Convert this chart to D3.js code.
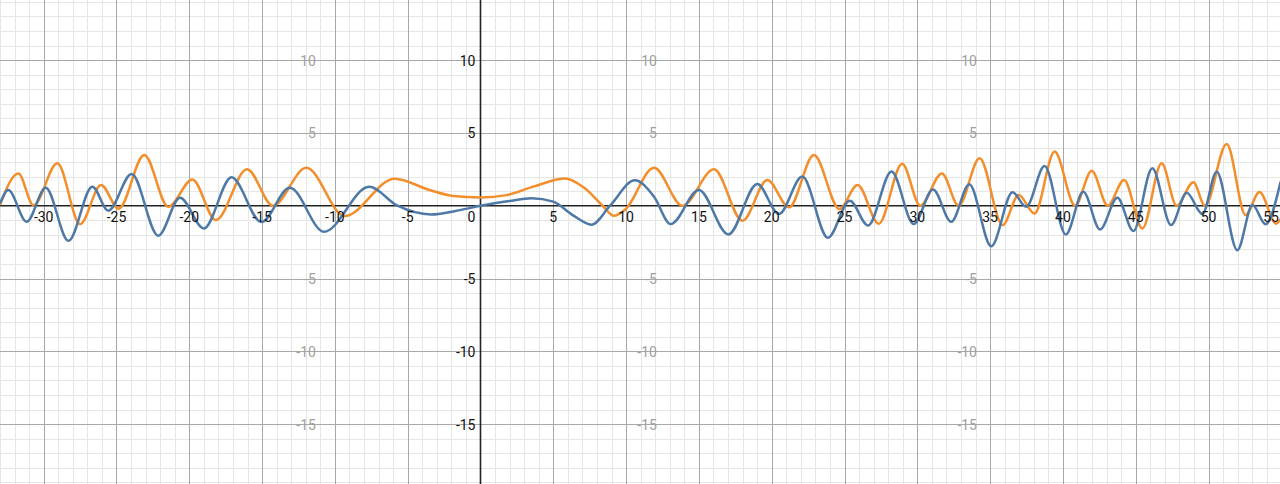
<!DOCTYPE html>
<html>
<head>
<meta charset="utf-8">
<script src="https://cdn.jsdelivr.net/npm/d3@7"></script>
<style>
  html, body { margin: 0; padding: 0; background: #fff; }
  svg { display: block; }
  text { font-family: Roboto, "Open Sans", Arial, sans-serif; }
</style>
</head>
<body>
<svg id="chart" width="1280" height="484"></svg>
<script>
// ---- data ----
const orangePoints = [
  [-33.0, 0.05], [-31.74, 2.22], [-30.7, 0.03], [-29.06, 2.91], [-27.5, -1.26],
  [-26.06, 1.42], [-24.85, -0.2], [-23.09, 3.49], [-21.44, -0.07], [-19.79, 1.81],
  [-18.18, -0.99], [-16.03, 2.5], [-14.25, 0.0], [-11.96, 2.61], [-9.33, -0.71],
  [-5.9, 1.86], [-3.5, 1.08], [-1.87, 0.67], [0, 0.57], [1.8, 0.73],
  [3.63, 1.31], [5.8, 1.87], [7.1, 1.25], [8.44, -0.05], [9.15, -0.69],
  [9.95, -0.25], [11.92, 2.61], [13.87, 0.0], [16.04, 2.5], [17.99, -1.03],
  [19.7, 1.77], [21.19, -0.11], [22.9, 3.49], [24.65, -0.22], [25.9, 1.42],
  [27.35, -1.24], [28.96, 2.89], [30.2, 0.0], [31.69, 2.22], [32.84, 0.0],
  [34.28, 3.26], [35.86, -1.33], [36.96, 0.73], [38.05, -0.53], [39.43, 3.72],
  [40.84, 0.0], [41.98, 2.41], [43.08, 0.0], [44.2, 1.77], [45.46, -1.56],
  [46.78, 2.91], [47.81, 0.0], [48.96, 1.61], [49.76, 0.0], [51.25, 4.24],
  [52.55, -0.64], [53.5, 0.94], [54.65, -1.24], [54.95, -0.9]
];
const bluePoints = [
  [-33.0, 0.15], [-32.43, 1.08], [-31.17, -1.1], [-29.86, 1.24], [-28.3, -2.41],
  [-26.66, 1.31], [-25.56, -0.34], [-23.96, 2.18], [-22.13, -2.06], [-20.64, 0.55],
  [-19.0, -1.56], [-17.1, 1.95], [-15.05, -1.12], [-13.1, 1.24], [-10.75, -1.79],
  [-7.65, 1.3], [-5.7, 0.0], [-3.4, -0.6], [-1.41, -0.3], [0, 0],
  [1.98, 0.32], [3.5, 0.52], [5.0, 0.28], [6.33, -0.64], [7.62, -1.3],
  [8.9, 0.0], [10.6, 1.75], [11.92, 0.62], [13.06, -1.26], [15.0, 1.08],
  [17.02, -1.97], [19.01, 1.49], [20.5, -0.57], [22.1, 2.0], [23.86, -2.2],
  [25.36, 0.35], [26.62, -1.36], [28.23, 2.36], [29.75, -1.26], [31.08, 1.12],
  [32.33, -1.1], [33.57, 1.47], [35.08, -2.78], [36.54, 0.92], [37.48, -0.07],
  [38.74, 2.73], [40.2, -1.97], [41.4, 0.96], [42.55, -1.63], [43.74, 0.55],
  [44.84, -1.74], [46.14, 2.57], [47.43, -1.33], [48.5, 0.89], [49.58, -0.57],
  [50.56, 2.34], [51.98, -3.05], [53.02, 0.05], [53.92, -1.27], [54.95, 1.65]
];
const xTickValues = [-30, -25, -20, -15, -10, -5, 5, 10, 15, 20, 25, 30, 35, 40, 45, 50, 55];
const yTickValues = [-15, -10, -5, 5, 10];
const ghostLabelColumns = [-11.3, 12.12, 34.1];

// ---- layout ----
const W = 1280, H = 484;
const svg = d3.select("#chart");
const x = d3.scaleLinear().domain([-33.0, 54.91]).range([0, W]);
const y = d3.scaleLinear().domain([-19.11, 14.13]).range([H, 0]);

const gridMinorX = d3.range(-33, 55 + 1e-9, 1).filter(v => v % 5 !== 0);
const gridMinorY = d3.range(-19, 14 + 1e-9, 1).filter(v => v % 5 !== 0);
const gridMajorX = d3.range(-30, 55 + 1e-9, 5).filter(v => v !== 0);
const gridMajorY = d3.range(-15, 10 + 1e-9, 5).filter(v => v !== 0);

const grid = svg.append("g");
grid.selectAll(".mnx").data(gridMinorX).join("line")
  .attr("x1", d => Math.round(x(d)) + 0.5).attr("x2", d => Math.round(x(d)) + 0.5)
  .attr("y1", 0).attr("y2", H).attr("stroke", "#e6e6e6").attr("stroke-width", 1);
grid.selectAll(".mny").data(gridMinorY).join("line")
  .attr("y1", d => Math.round(y(d)) + 0.5).attr("y2", d => Math.round(y(d)) + 0.5)
  .attr("x1", 0).attr("x2", W).attr("stroke", "#e6e6e6").attr("stroke-width", 1);
grid.selectAll(".mjx").data(gridMajorX).join("line")
  .attr("x1", d => Math.round(x(d)) + 0.5).attr("x2", d => Math.round(x(d)) + 0.5)
  .attr("y1", 0).attr("y2", H).attr("stroke", "#a8a8a8").attr("stroke-width", 1);
grid.selectAll(".mjy").data(gridMajorY).join("line")
  .attr("y1", d => Math.round(y(d)) + 0.5).attr("y2", d => Math.round(y(d)) + 0.5)
  .attr("x1", 0).attr("x2", W).attr("stroke", "#a8a8a8").attr("stroke-width", 1);

// ghost y labels
const ghost = svg.append("g").attr("fill", "#a0a0a0").attr("font-size", 14)
  .attr("text-anchor", "end").attr("dominant-baseline", "central");
ghostLabelColumns.forEach(cx => {
  ghost.selectAll(null).data(yTickValues).join("text")
    .attr("x", x(cx)).attr("y", d => y(d) + 0.5)
    .text(d => String(d));
});

// axes
svg.append("line").attr("x1", 0).attr("x2", W)
  .attr("y1", y(0)).attr("y2", y(0)).attr("stroke", "#222").attr("stroke-width", 1.6);
svg.append("line").attr("x1", x(0)).attr("x2", x(0))
  .attr("y1", 0).attr("y2", H).attr("stroke", "#222").attr("stroke-width", 1.6);

// curves
const line = d3.line().x(d => x(d[0])).y(d => y(d[1])).curve(d3.curveMonotoneX);
svg.append("path").datum(orangePoints).attr("d", line)
  .attr("fill", "none").attr("stroke", "#f28e2b").attr("stroke-width", 2.5)
  .attr("stroke-linejoin", "round");
svg.append("path").datum(bluePoints).attr("d", line)
  .attr("fill", "none").attr("stroke", "#4e79a7").attr("stroke-width", 2.5)
  .attr("stroke-linejoin", "round");

// axis labels
const labels = svg.append("g").attr("fill", "#111").attr("font-size", 14);
labels.selectAll(".xl").data(xTickValues).join("text")
  .attr("x", d => Math.min(x(d), W - 1))
  .attr("y", y(0) + 16)
  .attr("text-anchor", d => x(d) + 9 > W ? "end" : "middle")
  .text(d => String(d));
labels.append("text").attr("x", x(0) - 5).attr("y", y(0) + 16)
  .attr("text-anchor", "end").text("0");
labels.selectAll(".yl").data(yTickValues).join("text")
  .attr("x", x(0) - 5).attr("y", d => y(d) + 0.5)
  .attr("text-anchor", "end").attr("dominant-baseline", "central")
  .text(d => String(d));
</script>
</body>
</html>
